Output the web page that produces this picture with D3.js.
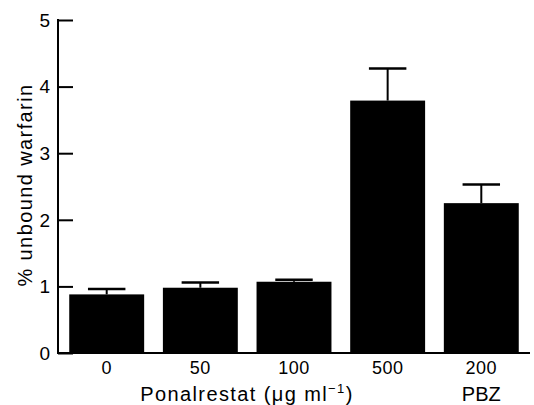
<!DOCTYPE html>
<html>
<head>
<meta charset="utf-8">
<script src="https://cdn.jsdelivr.net/npm/d3@7"></script>
<style>
  body { margin: 0; background: #fff; }
  svg { display: block; font-family: "Liberation Sans", Arial, sans-serif; }
</style>
</head>
<body>
<svg id="chart" width="534" height="405"></svg>
<script>
// data
const categories = ['0', '50', '100', '500', '200'];
const means = [0.88, 0.98, 1.07, 3.79, 2.25];
const errors = [0.08, 0.08, 0.03, 0.48, 0.28];
const yTicks = [0, 1, 2, 3, 4, 5];

const width = 534, height = 405;
const margin = {top: 20, right: 4, bottom: 52, left: 58};

const svg = d3.select('#chart');

let x = d3.scaleBand()
  .domain(categories)
  .range([margin.left, width - margin.right])
  .paddingInner(0.2)
  .paddingOuter(0.12);

let y = d3.scaleLinear()
  .domain([0, 5])
  .range([height - margin.bottom, margin.top]);

// bars
svg.selectAll('rect.bar')
  .data(means)
  .enter()
  .append('rect')
  .attr('class', 'bar')
  .attr('x', (d, i) => x(categories[i]))
  .attr('y', d => y(d))
  .attr('width', x.bandwidth())
  .attr('height', d => y(0) - y(d))
  .attr('fill', '#000');

// error bars (upper only)
let capW = x.bandwidth() / 2;
let err = svg.selectAll('g.err')
  .data(means)
  .enter()
  .append('g')
  .attr('class', 'err');
err.append('line')
  .attr('x1', (d, i) => x(categories[i]) + x.bandwidth() / 2)
  .attr('x2', (d, i) => x(categories[i]) + x.bandwidth() / 2)
  .attr('y1', d => y(d))
  .attr('y2', (d, i) => y(d + errors[i]))
  .attr('stroke', '#000')
  .attr('stroke-width', 2);
err.append('line')
  .attr('x1', (d, i) => x(categories[i]) + x.bandwidth() / 2 - capW / 2)
  .attr('x2', (d, i) => x(categories[i]) + x.bandwidth() / 2 + capW / 2)
  .attr('y1', (d, i) => y(d + errors[i]))
  .attr('y2', (d, i) => y(d + errors[i]))
  .attr('stroke', '#000')
  .attr('stroke-width', 2.5);

// y axis, ticks pointing inward
let yAxis = d3.axisRight(y).tickValues(yTicks).tickSize(15).tickFormat('');
let gy = svg.append('g')
  .attr('transform', `translate(${margin.left},0)`)
  .call(yAxis);
gy.select('.domain').remove();
gy.selectAll('.tick line').attr('stroke', '#000').attr('stroke-width', 2);
svg.append('line')
  .attr('x1', margin.left).attr('x2', margin.left)
  .attr('y1', y(5) - 1).attr('y2', y(0) + 1)
  .attr('stroke', '#000').attr('stroke-width', 2);

svg.selectAll('text.ylab')
  .data(yTicks)
  .enter()
  .append('text')
  .attr('class', 'ylab')
  .attr('x', margin.left - 8)
  .attr('y', d => y(d))
  .attr('dy', '0.36em')
  .attr('text-anchor', 'end')
  .style('font-size', '19px')
  .text(d => d);

// x baseline
svg.append('line')
  .attr('x1', margin.left).attr('x2', width - 4)
  .attr('y1', y(0)).attr('y2', y(0))
  .attr('stroke', '#000').attr('stroke-width', 2);

// category labels
svg.selectAll('text.xlab')
  .data(categories)
  .enter()
  .append('text')
  .attr('class', 'xlab')
  .attr('x', d => x(d) + x.bandwidth() / 2)
  .attr('y', 374)
  .attr('text-anchor', 'middle')
  .style('font-size', '18px')
  .style('letter-spacing', '0.5px')
  .text(d => d);

// axis titles
let xt = svg.append('text')
  .attr('x', 247)
  .attr('y', 401)
  .attr('text-anchor', 'middle')
  .style('font-size', '20px')
  .style('letter-spacing', '1.4px');
xt.append('tspan').text('Ponalrestat (\u03bcg ml');
xt.append('tspan').attr('dy', -8).style('font-size', '13px').text('\u22121');
xt.append('tspan').attr('dy', 8).text(')');

svg.append('text')
  .attr('x', x('200') + x.bandwidth() / 2)
  .attr('y', 401)
  .attr('text-anchor', 'middle')
  .style('font-size', '20px')
  .text('PBZ');

svg.append('text')
  .attr('transform', 'translate(32,185) rotate(-90)')
  .attr('text-anchor', 'middle')
  .style('font-size', '20px')
  .style('letter-spacing', '1.4px')
  .text('% unbound warfarin');
</script>
</body>
</html>
